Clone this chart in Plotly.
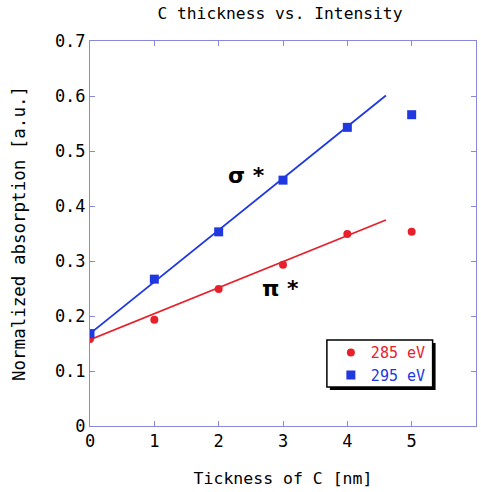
import numpy as np
import plotly.graph_objects as go

# Carbon thickness [nm]
thickness = [0, 1, 2, 3, 4, 5]
# Normalized absorption at two photon energies
abs_285 = [0.158, 0.193, 0.249, 0.293, 0.349, 0.353]
abs_295 = [0.168, 0.267, 0.353, 0.447, 0.543, 0.566]

# Linear fit lines (intercept, slope), drawn from 0 to 4.6 nm
fit_285 = [0.157, 0.0473]
fit_295 = [0.168, 0.0941]
fit_range = [0, 4.6]

x_ticks = [0, 1, 2, 3, 4, 5, 6]
y_ticks = [0, 0.1, 0.2, 0.3, 0.4, 0.5, 0.6, 0.7]
y_tick_text = ["0", "0.1", "0.2", "0.3", "0.4", "0.5", "0.6", "0.7"]

RED = "#e8202c"
BLUE = "#2038e0"
FRAME = "#8888dd"
MONO = "DejaVu Sans Mono"

fig = go.Figure()


def add_fit(fit, color):
    intercept, slope = fit
    xs = np.array(fit_range)
    fig.add_trace(go.Scatter(
        x=xs, y=intercept + slope * xs, mode="lines",
        line=dict(color=color, width=1.8), showlegend=False, hoverinfo="skip"))


add_fit(fit_285, RED)
add_fit(fit_295, BLUE)

fig.add_trace(go.Scatter(
    x=thickness, y=abs_285, mode="markers",
    name=f"<span style='color:{RED}'>285 eV</span>",
    marker=dict(symbol="circle", size=8, color=RED)))
fig.add_trace(go.Scatter(
    x=thickness, y=abs_295, mode="markers",
    name=f"<span style='color:{BLUE}'>295 eV</span>",
    marker=dict(symbol="square", size=9, color=BLUE)))

# Peak labels
fig.add_annotation(x=2.44, y=0.455, text="<b>σ *</b>", showarrow=False,
                   font=dict(family="DejaVu Sans", size=22, color="black"))
fig.add_annotation(x=2.96, y=0.250, text="<b>π *</b>", showarrow=False,
                   font=dict(family="DejaVu Sans", size=22, color="black"))

# Legend frame: black drop shadow, then white box with black border
fig.add_shape(type="rect", xref="paper", yref="paper",
              x0=0.6214, x1=0.8953, y0=0.0934, y1=0.2154,
              fillcolor="black", line=dict(width=0), layer="above")
fig.add_shape(type="rect", xref="paper", yref="paper",
              x0=0.6137, x1=0.8876, y0=0.1012, y1=0.2232,
              fillcolor="white", line=dict(color="black", width=1.5), layer="above")

axis_common = dict(
    showline=True, linecolor=FRAME, linewidth=1, mirror="ticks",
    ticks="inside", ticklen=5, tickcolor=FRAME, tickwidth=1,
    showgrid=False, zeroline=False,
    tickfont=dict(family=MONO, size=17, color="black"),
)

fig.update_xaxes(range=[0, 6], tickvals=x_ticks, **axis_common,
                 title=dict(text="Tickness of C [nm]", standoff=22,
                            font=dict(family=MONO, size=16.5, color="black")))
fig.update_yaxes(range=[0, 0.7], tickvals=y_ticks, ticktext=y_tick_text, **axis_common,
                 title=dict(text="Normalized absorption [a.u.]", standoff=24,
                            font=dict(family=MONO, size=17.5, color="black")))

fig.update_layout(
    width=481, height=492,
    margin=dict(l=90, r=5, t=41, b=66),
    paper_bgcolor="white", plot_bgcolor="white",
    title=dict(text="C thickness vs. Intensity", x=0.582, xanchor="center",
               y=0.972, yanchor="middle",
               font=dict(family=MONO, size=16.3, color="black")),
    legend=dict(x=0.624, y=0.2334, xanchor="left", yanchor="top",
                bgcolor="rgba(0,0,0,0)", borderwidth=0,
                font=dict(family=MONO, size=15, color="black"),
                itemsizing="trace", tracegroupgap=0),
    showlegend=True,
)

fig.write_html("out.html")
